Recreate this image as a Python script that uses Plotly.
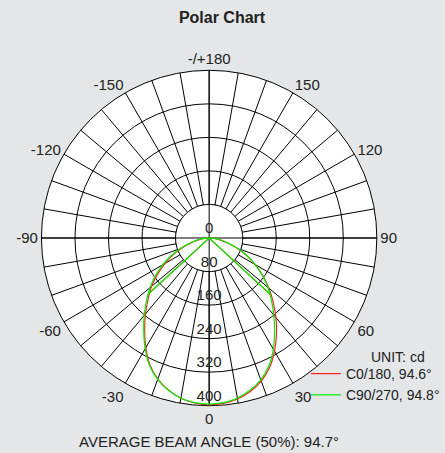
import plotly.graph_objects as go

# ---- data ----
angles = list(range(-90, 95, 5))
c0_180 = [0, 11, 26, 45, 68, 95, 121, 150, 179, 206, 236, 268, 302, 334, 358, 375, 388, 395,
          398, 396, 390, 379, 363, 341, 312, 280, 248, 216, 186, 156, 126, 98, 70, 46, 26, 11, 0]
c90_270 = [0, 12, 28, 48, 73, 100, 128, 156, 184, 211, 241, 272, 305, 336, 359, 376, 388, 394,
           396, 394, 388, 376, 360, 337, 306, 272, 240, 210, 183, 155, 127, 100, 72, 48, 28, 12, 0]
beam_c0 = 94.6
beam_c90 = 94.8
avg_beam = 94.7

radial_ticks = [0, 80, 160, 240, 320, 400]
angular_grid = list(range(0, 360, 10))
angular_label_vals = [0, 30, 60, 90, 120, 150, 180, 210, 240, 270, 300, 330]
angular_label_text = ["0", "30", "60", "90", "120", "150", "-/+180", "-150", "-120", "-90", "-60", "-30"]

FONT = "Liberation Sans, Arial, Helvetica, sans-serif"
TXT = "#222222"

ticktext = []
for a in angular_grid:
    if a in angular_label_vals:
        ticktext.append(angular_label_text[angular_label_vals.index(a)])
    else:
        ticktext.append("")

fig = go.Figure()

# white inner disk (spokes start at the first circle)
inner_r = radial_ticks[1]
circle_theta = list(range(0, 361, 2))
fig.add_trace(go.Scatterpolar(
    r=[inner_r] * len(circle_theta), theta=circle_theta, mode="lines",
    fill="toself", fillcolor="white", line=dict(color="black", width=1),
    showlegend=False, hoverinfo="skip"))
# full cross lines through the centre
rmax = radial_ticks[-1]
fig.add_trace(go.Scatterpolar(
    r=[rmax, 0, rmax], theta=[0, 0, 180], mode="lines",
    line=dict(color="black", width=1), showlegend=False, hoverinfo="skip"))
fig.add_trace(go.Scatterpolar(
    r=[rmax, 0, rmax], theta=[90, 90, 270], mode="lines",
    line=dict(color="black", width=1), showlegend=False, hoverinfo="skip"))

# radial labels
fig.add_trace(go.Scatterpolar(
    r=radial_ticks, theta=[0] * len(radial_ticks), mode="markers+text",
    marker=dict(size=0.1, opacity=0),
    text=[str(v) for v in radial_ticks], textposition="top center",
    textfont=dict(family=FONT, size=15, color=TXT),
    showlegend=False, hoverinfo="skip"))

series = [
    ("C0/180, %.1f°" % beam_c0, c0_180, beam_c0, "#ff2020"),
    ("C90/270, %.1f°" % beam_c90, c90_270, beam_c90, "#00ee00"),
]
for name, vals, beam, col in series:
    fig.add_trace(go.Scatterpolar(
        r=vals, theta=angles, mode="lines", name=name, legendgroup=name,
        line=dict(color=col, width=1.2, shape="spline", smoothing=0.6)))
    half = 0.5 * max(vals)
    fig.add_trace(go.Scatterpolar(
        r=[half, 0, half], theta=[-beam / 2, 0, beam / 2], mode="lines",
        legendgroup=name, showlegend=False,
        line=dict(color=col, width=1.2)))

W, H = 445, 453
cx, cy, R = 212, 238, 170
fig.update_layout(
    width=W, height=H,
    paper_bgcolor="#e5e6e8",
    margin=dict(l=0, r=0, t=0, b=0),
    font=dict(family=FONT, size=14, color=TXT),
    title=dict(text="<b>Polar Chart</b>", x=222 / W, xanchor="center",
               y=1 - 17 / H, yanchor="middle", yref="container",
               font=dict(family=FONT, size=16, color=TXT)),
    polar=dict(
        domain=dict(x=[(cx - R) / W, (cx + R) / W], y=[1 - (cy + R) / H, 1 - (cy - R) / H]),
        bgcolor="white",
        radialaxis=dict(range=[0, rmax], tickvals=radial_ticks[1:], showticklabels=False,
                        ticks="", showline=False, gridcolor="black", gridwidth=1,
                        layer="below traces"),
        angularaxis=dict(rotation=-90, direction="counterclockwise",
                         tickmode="array", tickvals=angular_grid, ticktext=ticktext,
                         ticks="", showline=True, linecolor="black", linewidth=1,
                         gridcolor="black", gridwidth=1, layer="below traces",
                         tickfont=dict(family=FONT, size=15, color=TXT)),
    ),
    legend=dict(x=451 / W, xanchor="right", y=1 - 358 / H, yanchor="top",
                bgcolor="rgba(0,0,0,0)", font=dict(family=FONT, size=14, color=TXT),
                tracegroupgap=0),
    annotations=[
        dict(text="UNIT: cd", x=403 / W, y=1 - 357 / H, xref="paper", yref="paper",
             xanchor="center", yanchor="middle", showarrow=False,
             font=dict(family=FONT, size=14, color=TXT)),
        dict(text="AVERAGE BEAM ANGLE (50%%): %.1f°" % avg_beam,
             x=211.5 / W, y=1 - 441 / H, xref="paper", yref="paper",
             xanchor="center", yanchor="middle", showarrow=False,
             font=dict(family=FONT, size=15, color=TXT))],
)

fig.write_html("out.html", config={"displayModeBar": False},
               post_script="document.body.style.margin='0';document.body.style.overflow='hidden';")
